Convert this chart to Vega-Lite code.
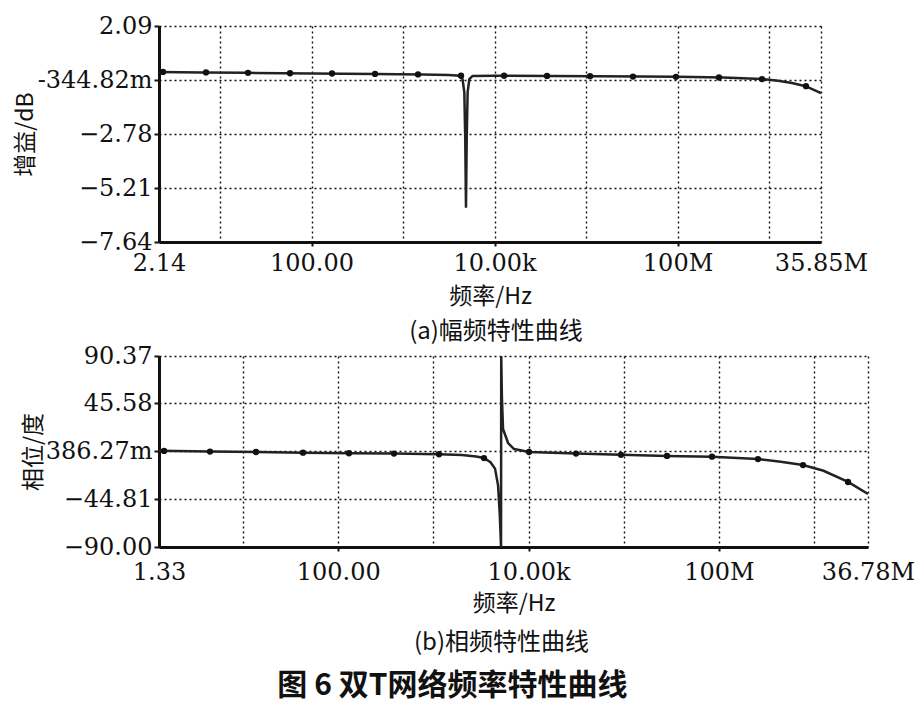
{
  "$schema": "https://vega.github.io/schema/vega-lite/v6.json",
  "background": "white",
  "padding": {"left": 14, "top": 14, "right": 5, "bottom": 5},
  "datasets": {
    "gainCurve": [
      {"f": 0.333, "v": 0.02}, {"f": 0.8, "v": 0.0}, {"f": 1.3, "v": -0.02}, {"f": 2.0, "v": -0.05},
      {"f": 2.7, "v": -0.07}, {"f": 3.2, "v": -0.09}, {"f": 3.5, "v": -0.12}, {"f": 3.62, "v": -0.15},
      {"f": 3.65, "v": -0.3}, {"f": 3.67, "v": -0.9}, {"f": 3.68, "v": -3.0}, {"f": 3.688, "v": -6.1},
      {"f": 3.696, "v": -3.0}, {"f": 3.706, "v": -0.9}, {"f": 3.725, "v": -0.3}, {"f": 3.76, "v": -0.16},
      {"f": 4.0, "v": -0.15}, {"f": 4.6, "v": -0.16}, {"f": 5.1, "v": -0.17}, {"f": 5.6, "v": -0.19},
      {"f": 6.0, "v": -0.2}, {"f": 6.5, "v": -0.23}, {"f": 6.92, "v": -0.3}, {"f": 7.1, "v": -0.38},
      {"f": 7.25, "v": -0.48}, {"f": 7.4, "v": -0.62}, {"f": 7.568, "v": -0.93}
    ],
    "gainMarks": [
      {"f": 0.377, "v": 0.02}, {"f": 0.847, "v": 0.0}, {"f": 1.306, "v": -0.02}, {"f": 1.765, "v": -0.04},
      {"f": 2.224, "v": -0.05}, {"f": 2.694, "v": -0.07}, {"f": 3.164, "v": -0.09}, {"f": 3.634, "v": -0.15},
      {"f": 4.104, "v": -0.15}, {"f": 4.574, "v": -0.16}, {"f": 5.044, "v": -0.17}, {"f": 5.513, "v": -0.19},
      {"f": 5.983, "v": -0.2}, {"f": 6.453, "v": -0.23}, {"f": 6.923, "v": -0.3}, {"f": 7.404, "v": -0.62}
    ],
    "phaseCurve": [
      {"f": 0.117, "v": 0.9}, {"f": 0.65, "v": 0.1}, {"f": 1.14, "v": -0.3}, {"f": 1.63, "v": -0.9},
      {"f": 2.11, "v": -1.5}, {"f": 2.59, "v": -1.8}, {"f": 3.06, "v": -2.4}, {"f": 3.3, "v": -3.2},
      {"f": 3.45, "v": -4.5}, {"f": 3.532, "v": -6.0}, {"f": 3.6, "v": -10.0}, {"f": 3.648, "v": -16.0},
      {"f": 3.68, "v": -32.0}, {"f": 3.698, "v": -60.0}, {"f": 3.711, "v": -90.0}, {"f": 3.713, "v": 90.37},
      {"f": 3.72, "v": 52.0}, {"f": 3.732, "v": 21.4}, {"f": 3.785, "v": 8.2}, {"f": 3.848, "v": 2.5},
      {"f": 4.005, "v": -0.3}, {"f": 4.499, "v": -1.8}, {"f": 4.971, "v": -3.0}, {"f": 5.455, "v": -4.0},
      {"f": 5.928, "v": -4.7}, {"f": 6.411, "v": -7.0}, {"f": 6.65, "v": -9.5}, {"f": 6.884, "v": -12.6},
      {"f": 7.1, "v": -18.0}, {"f": 7.357, "v": -28.6}, {"f": 7.567, "v": -40.0}
    ],
    "phaseMarks": [
      {"f": 0.17, "v": 0.7}, {"f": 0.653, "v": 0.1}, {"f": 1.136, "v": -0.3}, {"f": 1.63, "v": -0.9},
      {"f": 2.113, "v": -1.5}, {"f": 2.586, "v": -1.8}, {"f": 3.059, "v": -2.4}, {"f": 3.532, "v": -6.0},
      {"f": 4.005, "v": -0.3}, {"f": 4.499, "v": -1.8}, {"f": 4.971, "v": -3.0}, {"f": 5.455, "v": -4.0},
      {"f": 5.928, "v": -4.7}, {"f": 6.411, "v": -7.0}, {"f": 6.884, "v": -12.6}, {"f": 7.357, "v": -28.6}
    ]
  },
  "config": {
    "view": {"stroke": null},
    "axis": {
      "labelFont": "DejaVu Serif", "labelFontSize": 24, "labelColor": "#111",
      "titleFont": "Noto Sans CJK SC", "titleFontSize": 23, "titleFontWeight": "normal", "titleColor": "#111",
      "gridColor": "#111", "gridDash": [2, 3], "gridWidth": 1.4, "gridOpacity": 1,
      "domainColor": "#111", "domainWidth": 3, "tickColor": "#111", "tickWidth": 2,
      "labelOverlap": false, "labelFlush": false, "labelBound": false
    },
    "title": {"font": "Noto Sans CJK SC", "fontSize": 24, "fontWeight": "normal", "color": "#111"}
  },
  "title": {"text": "图 6  双T网络频率特性曲线", "orient": "bottom", "anchor": "middle", "fontSize": 30, "fontWeight": "bold", "offset": 16, "dx": -12},
  "spacing": 0,
  "vconcat": [
    {
      "width": 662, "height": 216,
      "title": {"text": "(a)幅频特性曲线", "orient": "bottom", "offset": 12, "dx": 6},
      "encoding": {
        "x": {"field": "f", "type": "quantitative", "title": "频率/Hz",
          "scale": {"domain": [0.333, 7.568], "nice": false, "zero": false},
          "axis": {"values": [0.333, 1, 2, 3, 4, 5, 6, 7, 7.568], "grid": true, "tickSize": 4, "labelPadding": 5, "titlePadding": 10,
            "tickOpacity": {"condition": {"test": "datum.value == 2 || datum.value == 4 || datum.value == 6", "value": 1}, "value": 0},
            "labelExpr": "datum.value < 0.5 ? '2.14' : datum.value == 2 ? '100.00' : datum.value == 4 ? '10.00k' : datum.value == 6 ? '100M' : datum.value > 7.5 ? '35.85M' : ''"}},
        "y": {"field": "v", "type": "quantitative", "title": "增益/dB",
          "scale": {"domain": [-7.64, 2.09], "nice": false, "zero": false},
          "axis": {"values": [-7.64, -5.21, -2.78, -0.34482, 2.09], "grid": true, "tickSize": 5, "labelPadding": 2, "titlePadding": 0,
            "labelExpr": "abs(datum.value + 0.34482) < 0.001 ? '-344.82m' : format(datum.value, '.2f')"}}
      },
      "layer": [
        {"data": {"name": "gainCurve"}, "mark": {"type": "line", "color": "#222", "strokeWidth": 2.5, "clip": true}},
        {"data": {"name": "gainMarks"}, "mark": {"type": "point", "filled": true, "color": "#111", "size": 40, "opacity": 1}}
      ]
    },
    {
      "width": 709, "height": 191,
      "title": {"text": "(b)相频特性曲线", "orient": "bottom", "offset": 16, "dx": -12},
      "encoding": {
        "x": {"field": "f", "type": "quantitative", "title": "频率/Hz",
          "scale": {"domain": [0.117, 7.567], "nice": false, "zero": false},
          "axis": {"values": [0.117, 1, 2, 3, 4, 5, 6, 7, 7.567], "grid": true, "tickSize": 4, "labelPadding": 9, "titlePadding": 8,
            "tickOpacity": {"condition": {"test": "datum.value == 2 || datum.value == 4 || datum.value == 6", "value": 1}, "value": 0},
            "labelExpr": "datum.value < 0.5 ? '1.33' : datum.value == 2 ? '100.00' : datum.value == 4 ? '10.00k' : datum.value == 6 ? '100M' : datum.value > 7.5 ? '36.78M' : ''"}},
        "y": {"field": "v", "type": "quantitative", "title": "相位/度",
          "scale": {"domain": [-90, 90.37], "nice": false, "zero": false},
          "axis": {"values": [-90, -44.81, 0.38627, 45.58, 90.37], "grid": true, "tickSize": 5, "labelPadding": 2, "titlePadding": 0,
            "labelExpr": "abs(datum.value - 0.38627) < 0.001 ? '386.27m' : format(datum.value, '.2f')"}}
      },
      "layer": [
        {"data": {"name": "phaseCurve"}, "mark": {"type": "line", "color": "#222", "strokeWidth": 2.5, "clip": true}},
        {"data": {"name": "phaseMarks"}, "mark": {"type": "point", "filled": true, "color": "#111", "size": 40, "opacity": 1}}
      ]
    }
  ]
}
